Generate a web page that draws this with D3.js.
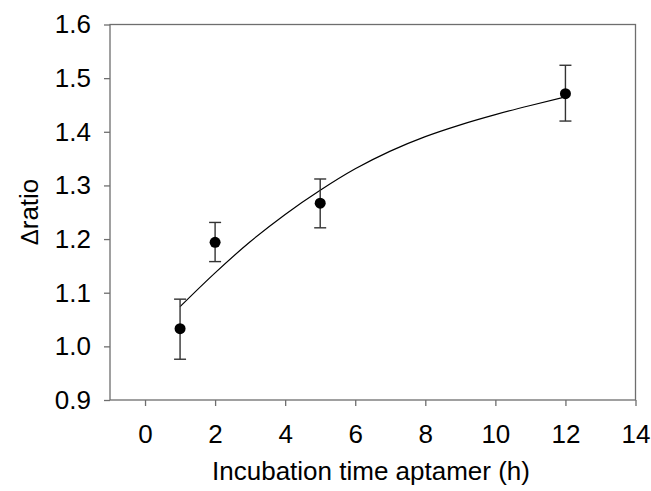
<!DOCTYPE html>
<html>
<head>
<meta charset="utf-8">
<script src="https://cdn.jsdelivr.net/npm/d3@7"></script>
<style>
  body { margin: 0; background: #fff; }
  text { font-family: Arial, "Liberation Sans", sans-serif; fill: #000; }
</style>
</head>
<body>
<div id="chart"></div>
<script>
// measured points
timeH = [1, 2, 5, 12]
ratio = [1.033, 1.194, 1.267, 1.471]
errUp = [0.055, 0.037, 0.045, 0.053]
errDown = [0.057, 0.036, 0.046, 0.051]

// fitted curve
fitX = [1, 2, 3, 4, 5, 6, 7, 8, 9, 10, 11, 12]
fitY = [1.074, 1.137, 1.195, 1.246, 1.291, 1.331, 1.364, 1.391, 1.413, 1.432, 1.449, 1.465]

xTicks = [0, 2, 4, 6, 8, 10, 12, 14]
yTicks = [0.9, 1.0, 1.1, 1.2, 1.3, 1.4, 1.5, 1.6]

margin = {top: 24.5, right: 15.5, bottom: 91, left: 110},
  width = 651 - margin.left - margin.right,
  height = 491 - margin.top - margin.bottom;

svg = d3.select("#chart")
  .append("svg")
  .attr("width", 651)
  .attr("height", 491)
  .append("g")
  .attr("transform", `translate(${margin.left}, ${margin.top})`);

x = d3.scaleLinear().domain([-1, 14]).range([0, width])
y = d3.scaleLinear().domain([0.9, 1.6]).range([height, 0])

axisColor = "#6e6e6e"

// frame
svg.append("rect")
  .attr("width", width)
  .attr("height", height)
  .attr("fill", "none")
  .attr("stroke", axisColor)
  .attr("stroke-width", 1.3)

xAxis = svg.append("g")
  .attr("transform", `translate(0, ${height})`)
  .call(d3.axisBottom(x).tickValues(xTicks).tickSize(6).tickSizeOuter(0).tickPadding(19))
  .attr("font-size", 26)
  .attr("font-family", null)
xAxis.select(".domain").remove()
xAxis.selectAll("line").attr("stroke", axisColor).attr("stroke-width", 1.3)

yAxis = svg.append("g")
  .call(d3.axisLeft(y).tickValues(yTicks).tickFormat(d3.format(".1f")).tickSize(6).tickSizeOuter(0).tickPadding(13))
  .attr("font-size", 26)
  .attr("font-family", null)
yAxis.select(".domain").remove()
yAxis.selectAll("line").attr("stroke", axisColor).attr("stroke-width", 1.3)

// fit line
line = d3.line()
  .x((d, i) => x(fitX[i]))
  .y(d => y(d))
  .curve(d3.curveMonotoneX)
svg.append("path")
  .datum(fitY)
  .attr("d", line)
  .attr("fill", "none")
  .attr("stroke", "#000")
  .attr("stroke-width", 1.2)

// error bars
pts = timeH.map((t, i) => ({t: t, v: ratio[i], up: errUp[i], dn: errDown[i]}))
eb = svg.selectAll(".eb").data(pts).join("g").attr("class", "eb")
  .attr("stroke", "#333").attr("stroke-width", 1.4)
eb.append("line")
  .attr("x1", d => x(d.t)).attr("x2", d => x(d.t))
  .attr("y1", d => y(d.v + d.up)).attr("y2", d => y(d.v - d.dn))
eb.append("line")
  .attr("x1", d => x(d.t) - 6).attr("x2", d => x(d.t) + 6)
  .attr("y1", d => y(d.v + d.up)).attr("y2", d => y(d.v + d.up))
eb.append("line")
  .attr("x1", d => x(d.t) - 6).attr("x2", d => x(d.t) + 6)
  .attr("y1", d => y(d.v - d.dn)).attr("y2", d => y(d.v - d.dn))

svg.selectAll(".dot").data(pts).join("circle").attr("class", "dot")
  .attr("cx", d => x(d.t))
  .attr("cy", d => y(d.v))
  .attr("r", 5.5)
  .attr("fill", "#000")

// axis titles
svg.append("text")
  .attr("x", 371 - margin.left)
  .attr("y", 480 - margin.top)
  .attr("text-anchor", "middle")
  .style("font-size", "26px")
  .text("Incubation time aptamer (h)")

yl = svg.append("text")
  .attr("transform", `translate(${38 - margin.left}, ${212 - margin.top}) rotate(-90)`)
  .attr("text-anchor", "middle")
  .style("font-size", "26px")
yl.append("tspan").style("font-size", "24px").text("Δ")
yl.append("tspan").text("ratio")
</script>
</body>
</html>
